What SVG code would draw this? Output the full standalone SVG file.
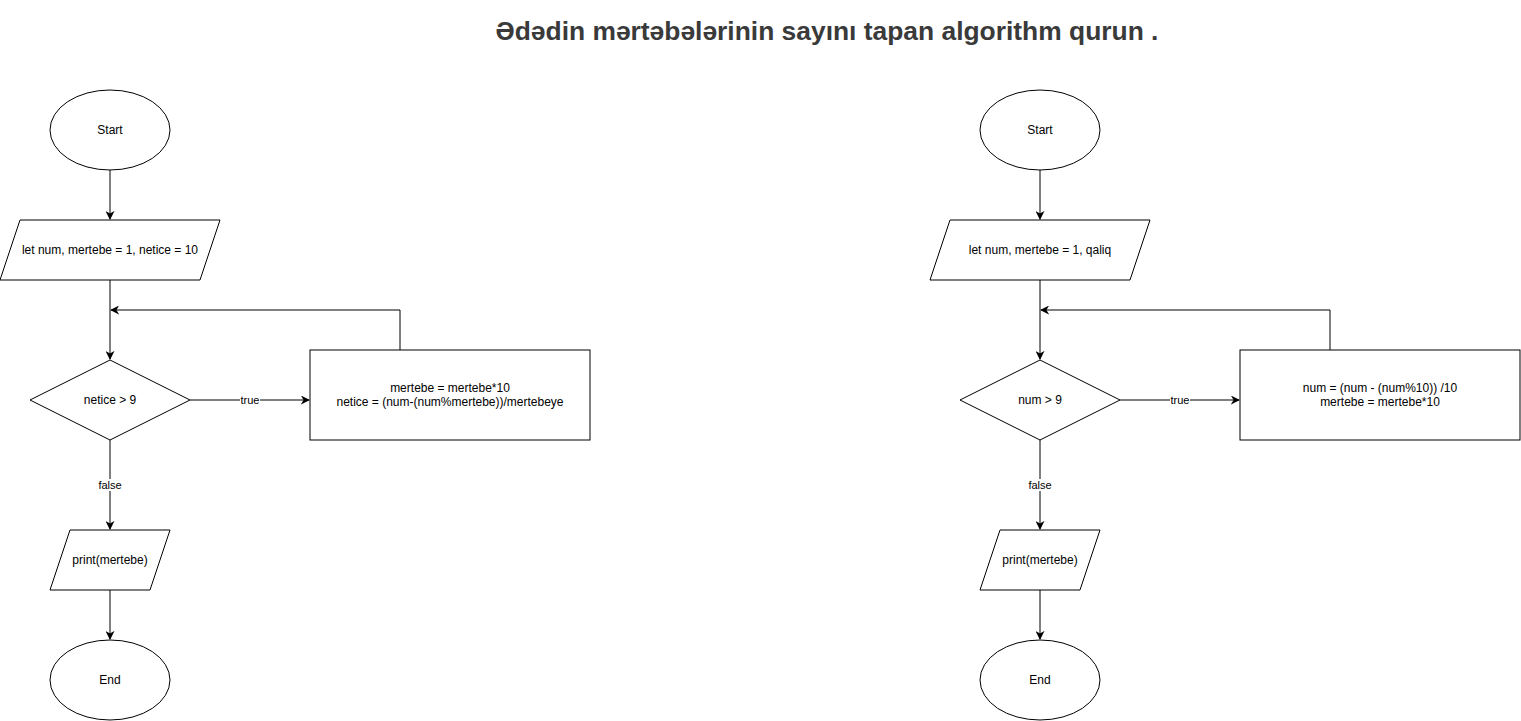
<svg xmlns="http://www.w3.org/2000/svg" width="1521" height="721" viewBox="0 0 1521 721">
<style>
.s{fill:#fff;stroke:#000;stroke-width:1}
.t{font-family:"Liberation Sans",Arial,sans-serif;font-size:12px;fill:#000;text-anchor:middle;dominant-baseline:central}
.e{fill:none;stroke:#000;stroke-width:1}
.lb{font-family:"Liberation Sans",Arial,sans-serif;font-size:11px;fill:#000;text-anchor:middle;dominant-baseline:central}
.title{font-family:"Liberation Sans",Arial,sans-serif;font-size:26.4px;font-weight:bold;fill:#3a3a3a;text-anchor:middle}
</style>
<defs>
<marker id="a" viewBox="0 0 10 10" refX="9" refY="5" markerWidth="9" markerHeight="9" markerUnits="userSpaceOnUse" orient="auto">
<path d="M0,0 L10,5 L0,10 L3,5 Z" fill="#000"/>
</marker>
</defs>
<rect width="1521" height="721" fill="#fff"/>
<text class="title" x="827" y="40">Ədədin mərtəbələrinin sayını tapan algorithm qurun .</text>

<g id="connectors">
<path class="e" d="M110,170 V219" marker-end="url(#a)"/>
<path class="e" d="M110,280 V359" marker-end="url(#a)"/>
<path class="e" d="M400,350 V310 H111" marker-end="url(#a)"/>
<path class="e" d="M190,400 H309" marker-end="url(#a)"/>
<path class="e" d="M110,440 V529" marker-end="url(#a)"/>
<path class="e" d="M110,590 V639" marker-end="url(#a)"/>
<rect x="240" y="394" width="20" height="12" fill="#fff"/>
<text class="lb" x="250" y="400">true</text>
<rect x="97" y="479" width="26" height="12" fill="#fff"/>
<text class="lb" x="110" y="485">false</text>

<path class="e" d="M1040,170 V219" marker-end="url(#a)"/>
<path class="e" d="M1040,280 V359" marker-end="url(#a)"/>
<path class="e" d="M1330,350 V310 H1041" marker-end="url(#a)"/>
<path class="e" d="M1120,400 H1239" marker-end="url(#a)"/>
<path class="e" d="M1040,440 V529" marker-end="url(#a)"/>
<path class="e" d="M1040,590 V639" marker-end="url(#a)"/>
<rect x="1170" y="394" width="20" height="12" fill="#fff"/>
<text class="lb" x="1180" y="400">true</text>
<rect x="1027" y="479" width="26" height="12" fill="#fff"/>
<text class="lb" x="1040" y="485">false</text>
</g>

<g id="start1"><ellipse class="s" cx="110" cy="130" rx="60" ry="40"/><text class="t" x="110" y="130">Start</text></g>
<g id="input1"><path class="s" d="M20,220 H220 L200,280 H0 Z"/><text class="t" x="110" y="250">let num, mertebe = 1, netice = 10</text></g>
<g id="cond1"><path class="s" d="M110,360 L190,400 L110,440 L30,400 Z"/><text class="t" x="110" y="400">netice &gt; 9</text></g>
<g id="proc1"><rect class="s" x="310" y="350" width="280" height="90"/><text class="t" x="450" y="388">mertebe = mertebe*10</text><text class="t" x="450" y="402">netice = (num-(num%mertebe))/mertebeye</text></g>
<g id="print1"><path class="s" d="M70,530 H170 L150,590 H50 Z"/><text class="t" x="110" y="560">print(mertebe)</text></g>
<g id="end1"><ellipse class="s" cx="110" cy="680" rx="60" ry="40"/><text class="t" x="110" y="680">End</text></g>

<g id="start2"><ellipse class="s" cx="1040" cy="130" rx="60" ry="40"/><text class="t" x="1040" y="130">Start</text></g>
<g id="input2"><path class="s" d="M950,220 H1150 L1130,280 H930 Z"/><text class="t" x="1040" y="250">let num, mertebe = 1, qaliq</text></g>
<g id="cond2"><path class="s" d="M1040,360 L1120,400 L1040,440 L960,400 Z"/><text class="t" x="1040" y="400">num &gt; 9</text></g>
<g id="proc2"><rect class="s" x="1240" y="350" width="280" height="90"/><text class="t" x="1380" y="388">num = (num - (num%10)) /10</text><text class="t" x="1380" y="402">mertebe = mertebe*10</text></g>
<g id="print2"><path class="s" d="M1000,530 H1100 L1080,590 H980 Z"/><text class="t" x="1040" y="560">print(mertebe)</text></g>
<g id="end2"><ellipse class="s" cx="1040" cy="680" rx="60" ry="40"/><text class="t" x="1040" y="680">End</text></g>
</svg>
